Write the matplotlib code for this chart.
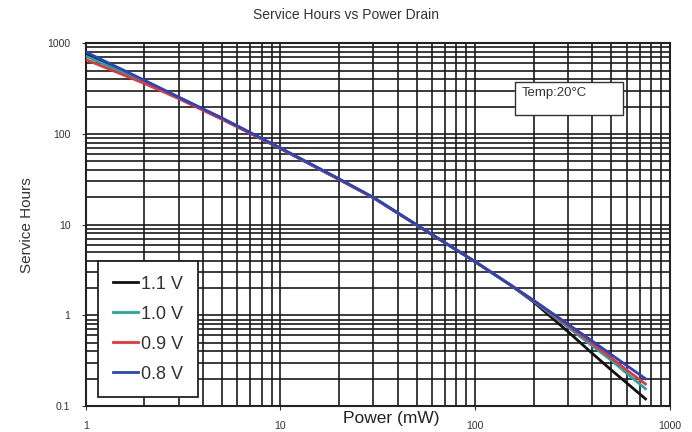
import numpy as np
import matplotlib
matplotlib.use("Agg")
import matplotlib.pyplot as plt
from matplotlib.patches import Rectangle
from matplotlib.ticker import FixedLocator, FixedFormatter, LogLocator, NullFormatter

plt.rcParams['font.family'] = ['Liberation Sans', 'DejaVu Sans']

# power drain (mW) and service hours
power = [1, 2, 3, 5, 10, 20, 30, 50, 100, 150, 200, 300, 400, 500, 600, 750]
h_11 = [760, 385, 252, 148, 69, 31.5, 19.8, 9.9, 3.9, 2.2, 1.40, 0.66, 0.38, 0.25, 0.18, 0.12]
h_10 = [720, 375, 250, 147, 69, 31.5, 19.8, 9.9, 3.9, 2.2, 1.43, 0.74, 0.46, 0.32, 0.23, 0.155]
h_09 = [660, 360, 245, 145, 69, 31.5, 19.8, 9.9, 3.9, 2.2, 1.45, 0.77, 0.49, 0.34, 0.25, 0.175]
h_08 = [800, 390, 255, 150, 70, 32, 20, 10, 3.9, 2.2, 1.46, 0.80, 0.52, 0.37, 0.28, 0.20]

series = [("1.1 V", h_11, "#111111"),
          ("1.0 V", h_10, "#1fa8a0"),
          ("0.9 V", h_09, "#e8343a"),
          ("0.8 V", h_08, "#2a44c0")]

x_ticks = [1, 10, 100, 1000]
x_labels = ["1", "10", "100", "1000"]
y_ticks = [0.1, 1, 10, 100, 1000]
y_labels = ["0.1", "1", "10", "100", "1000"]

fig = plt.figure(figsize=(6.92, 4.32), dpi=100)
ax = fig.add_axes([0.124, 0.060, 0.844, 0.840])

for lab, h, c in series:
    ax.plot(power, h, color=c, lw=2.0, label=lab, zorder=3)

ax.set_xscale('log')
ax.set_yscale('log')
ax.set_xlim(1, 1000)
ax.set_ylim(0.1, 1000)

ax.xaxis.set_major_locator(FixedLocator(x_ticks))
ax.xaxis.set_major_formatter(FixedFormatter(x_labels))
ax.yaxis.set_major_locator(FixedLocator(y_ticks))
ax.yaxis.set_major_formatter(FixedFormatter(y_labels))
ax.xaxis.set_minor_locator(LogLocator(base=10, subs=np.arange(2, 10)))
ax.yaxis.set_minor_locator(LogLocator(base=10, subs=np.arange(2, 10)))
ax.xaxis.set_minor_formatter(NullFormatter())
ax.yaxis.set_minor_formatter(NullFormatter())

ax.grid(True, which='both', color='#1a1a1a', lw=1.2, zorder=1)
ax.set_axisbelow(True)
ax.tick_params(which='minor', length=0)
ax.tick_params(axis='both', which='major', length=3, labelsize=7.5, colors='#333333', pad=8)
for s in ax.spines.values():
    s.set_linewidth(1.5)
    s.set_color('#222222')

fig.text(0.5, 0.965, "Service Hours vs Power Drain", fontsize=10, color='#333333',
         ha='center', va='center')
ax.set_ylabel("Service Hours", fontsize=11, color='#333333', labelpad=10)
fig.text(0.565, 0.032, "Power (mW)", fontsize=12.5, color='#222222', ha='center', va='center')

# temperature note
ax.add_patch(Rectangle((0.735, 0.802), 0.185, 0.091, transform=ax.transAxes,
                       facecolor='white', edgecolor='#333333', lw=1.0, zorder=4))
ax.text(0.747, 0.862, "Temp:20°C", transform=ax.transAxes, fontsize=9.5,
        color='#333333', va='center', ha='left', zorder=5)

leg = ax.legend(loc='lower left', bbox_to_anchor=(0.021, 0.025), borderaxespad=0,
                fancybox=False, edgecolor='#222222', framealpha=1, fontsize=13,
                handlelength=1.4, handletextpad=0.2, labelspacing=0.72, borderpad=0.8)
leg.get_frame().set_linewidth(1.3)
leg.set_zorder(6)
for t in leg.get_texts():
    t.set_color('#333333')

fig.savefig("out.png", dpi=100)
